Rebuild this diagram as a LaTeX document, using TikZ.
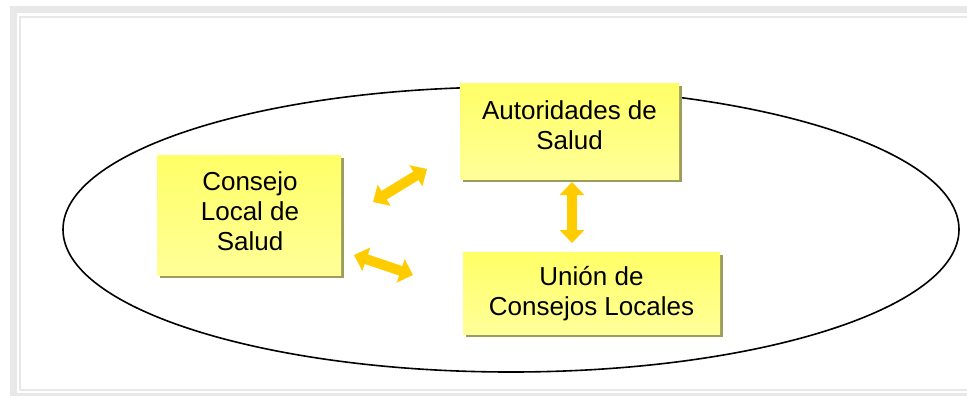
\documentclass[tikz,border=0pt]{standalone}
\usepackage{fontspec}
\setmainfont{Liberation Sans}
\usetikzlibrary{arrows.meta,shadows}
\definecolor{framegrey}{HTML}{E8E8E8}
\definecolor{boxtop}{HTML}{FFFF66}
\definecolor{boxbot}{HTML}{FFFF99}
\definecolor{shadowcol}{HTML}{9C9C5C}
\definecolor{arrowcol}{HTML}{FFCC00}
\tikzset{
  ybox/.style={rectangle, draw=none, top color=boxtop, bottom color=boxbot, inner sep=0pt,
    general shadow={fill=shadowcol, shadow xshift=3bp, shadow yshift=-3bp}},
  ytext/.style={align=center, inner sep=0pt, font=\fontsize{26bp}{30bp}\selectfont},
  dblarrow/.style={draw=arrowcol, line width=10bp, {Triangle[length=13bp,width=24bp]}-{Triangle[length=13bp,width=24bp]}}
}
\begin{document}
\begin{tikzpicture}[x=1bp,y=-1bp]
\useasboundingbox (0,0) rectangle (967,396);
\clip (0,0) rectangle (967,396);
% frame
\fill[framegrey] (10,6) rectangle (980,396);
\fill[white] (17,13) rectangle (980,393);
\draw[framegrey, line width=2bp] (20,16.5) rectangle (990,390);
% ellipse
\draw[line width=1.6bp, black] (511,229.5) ellipse [x radius=448, y radius=142.5];
% boxes
\node[ybox, minimum width=184bp, minimum height=120bp] (consejo) at (249,215) {};
\node[ytext] (consejotxt) at (250,211) {Consejo\\Local de\\Salud};
\node[ybox, minimum width=219bp, minimum height=96bp] (auth) at (569.5,131) {};
\node[ytext] (authtxt) at (569.5,125.5) {Autoridades de\\Salud};
\node[ybox, minimum width=257bp, minimum height=82bp] (union) at (591.5,293) {};
\node[ytext] (uniontxt) at (591.5,294) {Unión de\\Consejos Locales};
% arrow ends
\coordinate (a1s) at (373,202);
\coordinate (a1e) at (427,169);
\coordinate (a2s) at (354,255);
\coordinate (a2e) at (413,275);
\coordinate (a3s) at (572,182);
\coordinate (a3e) at (572,243);
\draw[dblarrow] (a1s) -- (a1e);
\draw[dblarrow] (a2s) -- (a2e);
\draw[dblarrow] (a3s) -- (a3e);
\end{tikzpicture}
\end{document}
